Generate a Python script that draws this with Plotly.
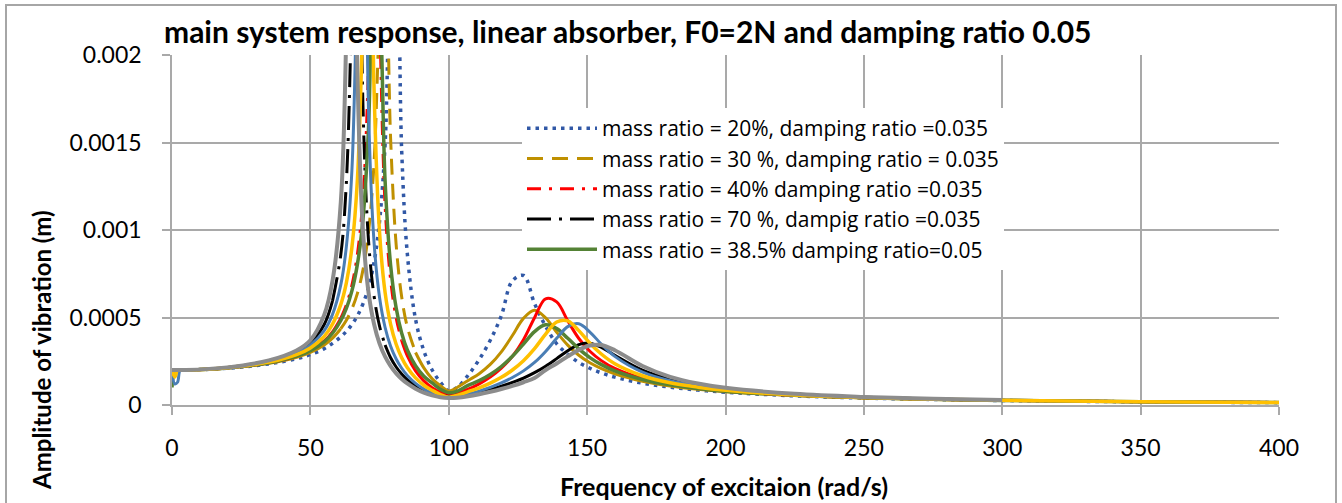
import plotly.graph_objects as go

# ---------------- data ----------------
freq = [0, 1, 2, 3, 5, 20, 35, 45, 50, 55, 58, 61, 63, 65, 67, 69, 71, 73, 75, 77,
        79, 81, 83, 85, 88, 91, 94, 97, 100, 103, 107, 111, 115, 119, 123, 127, 131,
        135, 139, 143, 147, 151, 155, 160, 170, 180, 190, 200, 225, 250, 275, 300, 350, 400]

mu20_z035 = [0.0002, 0.0002, 0.0002, 0.0002, 0.0002, 0.00021, 0.000235, 0.000265, 0.000288, 0.000322,
             0.000352, 0.00039, 0.000421, 0.00046, 0.00051, 0.000578, 0.000673, 0.000814, 0.00105, 0.00149,
             0.00243, 0.00265, 0.00145, 0.00087, 0.00049, 0.00031, 0.0002, 0.00013, 0.00008, 0.0001,
             0.00017, 0.00026, 0.00037, 0.00051, 0.00071, 0.00074, 0.00058, 0.00045, 0.00035, 0.00029,
             0.000243, 0.00021, 0.000184, 0.000159, 0.000125, 0.000102, 0.0000853, 0.0000729, 0.0000523, 0.0000398,
             0.0000316, 0.0000257, 0.0000181, 0.0000135]

mu30_z035 = [0.0002, 0.0002, 0.0002, 0.0002, 0.0002, 0.000211, 0.000238, 0.000272, 0.0003, 0.000343,
             0.000382, 0.000436, 0.000484, 0.000549, 0.000638, 0.000772, 0.000986, 0.00138, 0.0022, 0.00262,
             0.00152, 0.000915, 0.000617, 0.000448, 0.0003, 0.000212, 0.00015, 0.00011, 0.00008, 0.0001,
             0.00014, 0.000179, 0.000232, 0.000304, 0.000397, 0.000495, 0.000541, 0.000498, 0.000416, 0.000342,
             0.000284, 0.000241, 0.000209, 0.000178, 0.000136, 0.000109, 0.0000899, 0.0000761, 0.0000539, 0.0000407,
             0.0000321, 0.0000261, 0.0000183, 0.0000136]

mu40_z035 = [0.0002, 0.0002, 0.0002, 0.0002, 0.0002, 0.000212, 0.000241, 0.00028, 0.000313, 0.000366,
             0.000418, 0.000496, 0.000572, 0.000684, 0.000862, 0.00118, 0.00194, 0.00388, 0.00227, 0.00114,
             0.000715, 0.000498, 0.000368, 0.000282, 0.000195, 0.000138, 0.000099, 0.000074, 0.000065, 0.000069,
             0.00009, 0.000121, 0.00016, 0.000211, 0.000278, 0.000373, 0.000499, 0.000607, 0.000589, 0.000481,
             0.00038, 0.000307, 0.000255, 0.000209, 0.000152, 0.000118, 0.000096, 0.0000803, 0.0000558, 0.0000418,
             0.0000327, 0.0000264, 0.0000185, 0.0000137]

mu70_z035 = [0.0002, 0.0002, 0.0002, 0.0002, 0.0002, 0.000214, 0.000252, 0.000303, 0.000355, 0.00046,
             0.000595, 0.00086, 0.00127, 0.00235, 0.00389, 0.00171, 0.000942, 0.000623, 0.00045, 0.000343,
             0.00027, 0.000217, 0.000177, 0.000145, 0.00011, 0.0000835, 0.0000648, 0.0000529, 0.0000479, 0.0000493,
             0.0000582, 0.0000717, 0.000088, 0.000107, 0.000129, 0.000154, 0.000185, 0.000222, 0.000265, 0.00031,
             0.000345, 0.000353, 0.000331, 0.000284, 0.000199, 0.000147, 0.000114, 0.0000928, 0.0000614, 0.0000447,
             0.0000345, 0.0000276, 0.000019, 0.000014]

mu385_z05 = [0.0001, 0.0002, 0.0002, 0.0002, 0.0002, 0.000212, 0.000241, 0.000279, 0.000311, 0.000361,
             0.00041, 0.000483, 0.000552, 0.000652, 0.000805, 0.00106, 0.00158, 0.00261, 0.00233, 0.00128,
             0.000798, 0.000554, 0.00041, 0.000316, 0.000224, 0.000164, 0.000126, 0.00009, 0.00007, 0.000078,
             0.000112, 0.000139, 0.000174, 0.00022, 0.000278, 0.000348, 0.000419, 0.000458, 0.000437, 0.000381,
             0.000321, 0.000271, 0.000232, 0.000195, 0.000146, 0.000115, 0.0000941, 0.0000791, 0.0000553, 0.0000415,
             0.0000326, 0.0000264, 0.0000184, 0.0000137]

mu50_unlabelled = [0.0002, 0.00016, 0.0002, 0.0002, 0.0002, 0.000213, 0.000245, 0.000288, 0.000326, 0.000392,
                   0.000462, 0.000575, 0.000698, 0.0009, 0.00129, 0.00227, 0.00385, 0.00181, 0.000986, 0.000643,
                   0.000461, 0.000347, 0.00027, 0.000214, 0.000155, 0.000113, 0.000084, 0.00006, 0.000045, 0.000055,
                   0.0000762, 0.0000982, 0.000125, 0.000158, 0.0002, 0.000253, 0.000322, 0.000405, 0.000474, 0.000481,
                   0.000425, 0.000353, 0.000293, 0.000236, 0.000167, 0.000127, 0.000102, 0.0000843, 0.0000576, 0.0000427,
                   0.0000333, 0.0000268, 0.0000186, 0.0000138]

mu60_unlabelled = [0.0002, 0.00012, 0.00013, 0.0002, 0.0002, 0.000213, 0.000248, 0.000295, 0.000342, 0.000425,
                   0.000518, 0.000688, 0.000905, 0.00134, 0.00256, 0.00417, 0.00169, 0.000932, 0.000614, 0.000443,
                   0.000336, 0.000263, 0.00021, 0.000169, 0.000124, 0.0000912, 0.0000676, 0.0000524, 0.0000462, 0.0000489,
                   0.0000615, 0.0000796, 0.000101, 0.000126, 0.000157, 0.000195, 0.000243, 0.000306, 0.000381, 0.000448,
                   0.000464, 0.000417, 0.00035, 0.000278, 0.000188, 0.000139, 0.000109, 0.000089, 0.0000597, 0.0000438,
                   0.0000339, 0.0000272, 0.0000188, 0.0000139]

mu80_unlabelled = [0.0002, 0.0002, 0.0002, 0.0002, 0.0002, 0.000215, 0.000255, 0.000312, 0.00037, 0.000515,
                   0.00071, 0.00116, 0.00215, 0.00458, 0.0019, 0.000996, 0.000645, 0.000463, 0.000351, 0.000276,
                   0.000222, 0.000181, 0.000149, 0.000123, 0.0000934, 0.0000711, 0.0000548, 0.0000443, 0.00004, 0.0000414,
                   0.0000495, 0.0000613, 0.0000754, 0.0000912, 0.000109, 0.00013, 0.000154, 0.0002, 0.000237, 0.000278,
                   0.000315, 0.00034, 0.000343, 0.000313, 0.000223, 0.000161, 0.000123, 0.0000983, 0.0000637, 0.0000459,
                   0.0000351, 0.000028, None, None]

legend_names = ["mass ratio = 20%, damping ratio =0.035",
                "mass ratio = 30 %, damping ratio = 0.035",
                "mass ratio = 40% damping ratio =0.035",
                "mass ratio = 70 %, dampig ratio =0.035",
                "mass ratio = 38.5% damping ratio=0.05"]

x_ticks = [0, 50, 100, 150, 200, 250, 300, 350, 400]
y_ticks = [0, 0.0005, 0.001, 0.0015, 0.002]
y_tick_text = ["0", "0.0005", "0.001", "0.0015", "0.002"]

title_text = "main system response, linear absorber, F0=2N and damping ratio 0.05"
x_title = "Frequency of excitaion (rad/s)"
y_title = "Amplitude of vibration (m)"

# ---------------- figure ----------------
FONT = "Lato, 'Open Sans', sans-serif"
LEG_FONT = "'Open Sans', Lato, sans-serif"
fig = go.Figure()


def part(xs, ys, keep):
    px, py = [], []
    for x, y in zip(xs, ys):
        if keep(x):
            px.append(x)
            py.append(y)
        else:
            if px and px[-1] is not None:
                px.append(None)
                py.append(None)
    return px, py


def add(ys, color, width, name=None, dash=None, dash_range=None, show=False):
    if dash_range is None:
        fig.add_trace(go.Scatter(x=freq, y=ys, mode="lines", name=name, showlegend=show,
                                 line=dict(color=color, width=width, dash=dash or "solid", shape="spline"),
                                 hoverinfo="skip", connectgaps=False))
        return
    lo, hi = dash_range
    sx, sy = part(freq, ys, lambda x: x <= lo or x >= hi)
    fig.add_trace(go.Scatter(x=sx, y=sy, mode="lines", showlegend=False, legendgroup=name,
                             line=dict(color=color, width=width, shape="spline"),
                             hoverinfo="skip", connectgaps=False))
    dx, dy = part(freq, ys, lambda x: lo <= x <= hi)
    fig.add_trace(go.Scatter(x=dx, y=dy, mode="lines", name=name, showlegend=True, legendgroup=name,
                             line=dict(color=color, width=width, dash=dash, shape="spline"),
                             hoverinfo="skip", connectgaps=False))


add(mu20_z035, "#3158A6", 3.5, legend_names[0], dash="3.5px,5px", show=True)
add(mu30_z035, "#BF9000", 3, legend_names[1], dash="16px,9px", dash_range=(61, 88))
add(mu40_z035, "#FF0000", 3, legend_names[2], dash="14px,8px,3px,8px", dash_range=(61, 83))
add(mu70_z035, "#000000", 3, legend_names[3], dash="24px,8px,3px,8px", dash_range=(58, 77))
add(mu385_z05, "#548235", 3.5, legend_names[4], show=True)
add(mu60_unlabelled, "#4A7EB5", 3)
add(mu50_unlabelled, "#FFC000", 3.5)
add(mu80_unlabelled, "#8C8C8C", 4)

GRID = "#A9A9A9"
fig.update_xaxes(range=[0, 400], tickvals=x_ticks, ticktext=[str(v) for v in x_ticks],
                 showgrid=True, gridcolor=GRID, gridwidth=1.5, zeroline=False,
                 showline=True, linecolor=GRID, linewidth=1.5,
                 ticks="outside", ticklen=8, tickcolor=GRID, tickwidth=1.5,
                 ticklabelstandoff=14,
                 tickfont=dict(family=FONT, size=23, color="#000000"))
fig.update_yaxes(range=[0, 0.002], tickvals=y_ticks, ticktext=y_tick_text,
                 showgrid=True, gridcolor=GRID, gridwidth=1.5, zeroline=False,
                 showline=True, linecolor=GRID, linewidth=1.5,
                 ticks="outside", ticklen=8, tickcolor=GRID, tickwidth=1.5,
                 ticklabelstandoff=16,
                 tickfont=dict(family=FONT, size=23, color="#000000"))

L, R, T, B = 172, 63, 55, 98
W, H = 1342, 503
pw, ph = W - L - R, H - T - B


def px2x(p):
    return (p - L) / pw


def px2y(p):
    return (H - B - p) / ph


fig.update_layout(
    width=W, height=H,
    margin=dict(l=L, r=R, t=T, b=B, pad=0),
    paper_bgcolor="white", plot_bgcolor="white",
    font=dict(family=FONT, color="#000000"),
    showlegend=True,
    legend=dict(x=px2x(522), y=px2y(108), xanchor="left", yanchor="top",
                bgcolor="white", borderwidth=0, itemwidth=70,
                font=dict(family=LEG_FONT, size=21, color="#000000"),
                tracegroupgap=0),
    annotations=[
        dict(text="<b>" + title_text + "</b>", xref="paper", yref="paper",
             x=px2x(162), y=px2y(31), xanchor="left", yanchor="middle", showarrow=False,
             font=dict(family=FONT, size=30, color="#000000")),
        dict(text="<b>" + x_title + "</b>", xref="paper", yref="paper",
             x=px2x(724), y=px2y(486), xanchor="center", yanchor="middle", showarrow=False,
             font=dict(family=FONT, size=25, color="#000000")),
        dict(text="<b>" + y_title + "</b>", xref="paper", yref="paper",
             x=px2x(41), y=px2y(350), xanchor="center", yanchor="middle", showarrow=False,
             textangle=-90, font=dict(family=FONT, size=24, color="#000000")),
    ],
    shapes=[dict(type="rect", xref="paper", yref="paper",
                 x0=px2x(6), x1=px2x(1336), y0=px2y(530), y1=px2y(5),
                 line=dict(color="#A6A6A6", width=2), fillcolor="rgba(0,0,0,0)", layer="below")],
)

fig.write_html("out.html")
